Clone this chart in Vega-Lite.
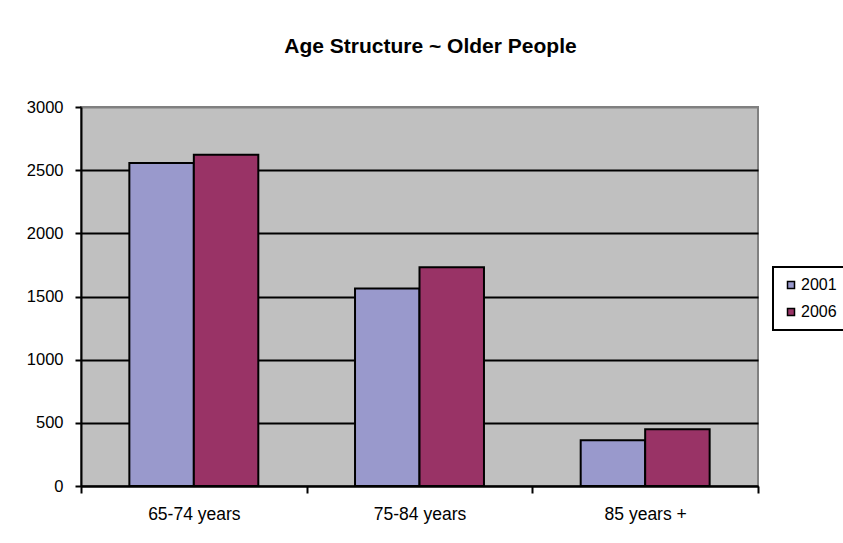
{
  "$schema": "https://vega.github.io/schema/vega-lite/v6.json",
  "width": 677,
  "height": 379,
  "autosize": {"type": "none"},
  "padding": {"left": 81, "top": 107, "right": 85, "bottom": 57},
  "background": "white",
  "title": {
    "text": "Age Structure ~ Older People",
    "font": "Liberation Sans",
    "fontSize": 21,
    "fontWeight": "bold",
    "color": "black",
    "anchor": "middle",
    "dx": 11,
    "offset": 21,
    "baseline": "bottom"
  },
  "data": {
    "values": [
      {"age": "65-74 years", "year": "2001", "people": 2556},
      {"age": "65-74 years", "year": "2006", "people": 2622},
      {"age": "75-84 years", "year": "2001", "people": 1563},
      {"age": "75-84 years", "year": "2006", "people": 1732},
      {"age": "85 years +", "year": "2001", "people": 362},
      {"age": "85 years +", "year": "2006", "people": 450}
    ]
  },
  "mark": {"type": "bar", "stroke": "black", "strokeWidth": 2},
  "encoding": {
    "x": {
      "field": "age",
      "type": "nominal",
      "sort": null,
      "scale": {"paddingInner": 0, "paddingOuter": 0},
      "axis": {
        "title": null,
        "labelAngle": 0,
        "tickBand": "extent",
        "tickSize": 7,
        "tickWidth": 2,
        "tickColor": "black",
        "domainColor": "black",
        "domainWidth": 2,
        "labelPadding": 12,
        "labelFont": "Liberation Sans",
        "labelFontSize": 17.5,
        "labelColor": "black",
        "grid": false
      }
    },
    "xOffset": {
      "field": "year",
      "type": "nominal",
      "scale": {"paddingInner": 0, "paddingOuter": 0.75}
    },
    "y": {
      "field": "people",
      "type": "quantitative",
      "scale": {"domain": [0, 3000]},
      "axis": {
        "title": null,
        "format": "d",
        "values": [0, 500, 1000, 1500, 2000, 2500, 3000],
        "tickSize": 6,
        "tickWidth": 2,
        "tickColor": "black",
        "domainColor": "black",
        "domainWidth": 2,
        "labelPadding": 12,
        "labelFont": "Liberation Sans",
        "labelFontSize": 16.5,
        "labelColor": "black",
        "grid": true,
        "gridColor": {"condition": {"test": "datum.value === 3000", "value": "#808080"}, "value": "black"},
        "gridWidth": 2,
        "gridOpacity": 1
      }
    },
    "color": {
      "field": "year",
      "type": "nominal",
      "scale": {"domain": ["2001", "2006"], "range": ["#9999CC", "#993366"]},
      "legend": {
        "title": null,
        "orient": "none",
        "legendX": 692,
        "legendY": 160,
        "strokeColor": "black",
        "fillColor": "white",
        "padding": 10,
        "symbolType": "square",
        "symbolSize": 49,
        "symbolStrokeColor": "black",
        "symbolStrokeWidth": 1.5,
        "symbolOpacity": 1,
        "labelFont": "Liberation Sans",
        "labelFontSize": 16,
        "labelColor": "black",
        "labelOffset": 2,
        "rowPadding": 11,
        "encode": {
          "legend": {"update": {"strokeWidth": {"value": 2}}}
        }
      }
    }
  },
  "config": {
    "view": {"fill": "#C0C0C0", "stroke": "#808080", "strokeWidth": 2}
  }
}
